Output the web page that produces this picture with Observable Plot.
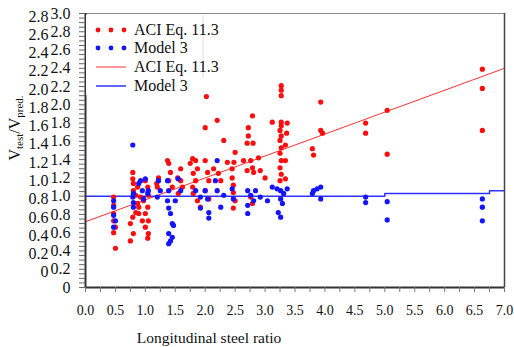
<!DOCTYPE html>
<html><head><meta charset="utf-8">
<script src="https://cdn.jsdelivr.net/npm/d3@7"></script>
<script src="https://cdn.jsdelivr.net/npm/@observablehq/plot@0.6"></script>
<style>
body{margin:0;background:#fff;}
#chart{position:relative;width:514px;height:347px;}
</style></head><body><div id="chart"></div>
<script>
// ACI Eq. 11.3 points (longitudinal steel ratio, Vtest/Vpred)
const aciX = [2.02,2.0,2.2,2.31,2.79,2.72,2.72,2.7,2.8,
  3.27,3.27,3.27,3.27,3.27,3.25,3.27,3.25,3.27,3.25,3.27,3.25,3.27,3.25,
  3.12,3.37,3.36,3.34,3.34,3.34,
  2.5,2.48,2.37,2.45,2.64,2.76,2.89,2.79,2.92,3.0,2.81,2.7,
  1.79,1.84,1.75,1.87,1.8,1.84,1.79,1.8,1.87,1.92,2.0,2.04,2.06,2.0,2.06,2.14,2.22,2.26,2.47,2.47,2.5,2.47,2.76,2.79,2.45,
  1.37,1.39,1.42,1.39,1.59,1.59,1.62,1.55,1.45,1.54,1.22,1.19,1.2,
  0.79,0.79,0.8,0.8,0.84,0.87,0.89,0.84,0.79,0.75,0.8,0.75,1.0,1.04,1.05,0.97,1.04,1.0,1.05,1.0,1.05,1.04,0.95,0.89,0.92,0.87,
  0.47,0.47,0.47,0.47,0.5,0.47,0.5,
  3.93,3.93,3.96,3.79,3.81,4.68,4.68,5.04,5.04,6.63,6.63,6.63];
const aciY = [2.09,1.75,1.83,1.61,1.88,1.75,1.66,1.58,1.58,
  2.21,2.16,2.10,1.81,1.77,1.72,1.66,1.61,1.53,1.47,1.39,1.31,1.24,1.17,
  1.81,1.8,1.69,1.56,1.39,1.19,
  1.48,1.37,1.37,1.30,1.39,1.39,1.42,1.31,1.28,1.2,1.26,1.28,
  1.41,1.39,1.36,1.30,1.25,1.17,1.10,1.03,0.95,0.88,1.39,1.26,1.17,1.06,0.97,1.30,1.25,1.17,1.12,1.04,0.95,0.87,0.99,0.92,1.2,
  1.39,1.36,1.26,1.17,1.30,1.17,1.10,1.03,1.10,1.2,1.2,1.14,1.1,
  1.26,1.19,1.14,1.06,1.01,0.92,0.88,0.82,0.77,0.70,0.59,0.51,1.17,1.10,1.01,0.95,0.88,0.81,0.73,0.66,0.59,0.54,0.73,0.81,0.99,1.10,
  0.99,0.90,0.81,0.73,0.66,0.60,0.43,
  2.03,1.72,1.69,1.52,1.45,1.80,1.69,1.94,1.46,2.39,2.18,1.72];
// Model 3 points
const m3X = [0.79,
  0.8,0.79,0.8,0.8,0.89,0.95,1.0,1.04,0.97,1.05,0.92,
  0.47,0.47,0.47,0.5,0.47,
  1.22,1.25,1.2,1.37,1.39,1.37,1.39,1.42,1.45,1.39,1.42,1.39,1.45,1.47,1.55,1.59,1.5,
  1.84,1.92,2.0,2.04,2.06,2.06,1.92,2.2,2.17,2.2,2.26,2.31,
  2.45,2.47,2.71,2.76,2.81,2.71,2.71,2.84,2.92,3.04,
  3.12,3.2,3.26,3.31,3.26,3.29,3.22,3.26,3.37,
  3.81,3.87,3.93,3.79,3.93,4.68,4.68,5.04,5.04,6.63,6.63,6.63];
const m3Y = [1.56,
  1.03,0.99,0.93,0.88,1.14,1.06,1.19,1.03,0.97,1.06,1.17,
  0.95,0.88,0.79,0.73,0.66,
  1.17,1.06,0.99,1.17,1.06,0.95,0.87,0.81,0.70,0.59,0.51,0.48,0.55,0.68,1.19,1.06,0.95,
  1.06,0.99,1.06,0.97,0.82,0.76,0.87,1.39,1.17,1.06,0.88,1.01,
  1.08,0.97,1.06,1.01,0.95,0.90,0.81,1.06,0.99,0.95,
  1.10,1.08,1.06,1.03,0.97,0.92,0.82,0.77,1.08,
  1.06,1.08,1.10,1.03,0.97,0.99,0.93,0.94,0.74,0.97,0.88,0.73];
// fitted lines
const aciLineX = [0, 7];
const aciLineY = [0.72, 2.40];
const m3LineX = [0, 5.0, 5.0, 6.75, 6.75, 7.0];
const m3LineY = [1.00, 1.00, 1.03, 1.03, 1.06, 1.06];
// tick labels
const xTicks = [0,0.5,1,1.5,2,2.5,3,3.5,4,4.5,5,5.5,6,6.5,7];
const yTicks = [0,0.2,0.4,0.6,0.8,1.0,1.2,1.4,1.6,1.8,2.0,2.2,2.4,2.6,2.8,3.0];
const yTicks2 = [0.2,0.4,0.6,0.8,1.0,1.2,1.4,1.6,1.8,2.0,2.2,2.4,2.6,2.8,3.0];
const yTicks2Labels = ["0","0.2","0.4","0.6","0.8","1.0","1.2","1.4","1.6","1.8","2.0","2.2","2.4","2.6","2.8"];
const legendLabels = ["ACI Eq. 11.3","Model 3","ACI Eq. 11.3","Model 3"];

const FONT = "Liberation Serif";
const RED = "#ff0d0d", BLUE = "#1414ff";
const aci = aciX.map((x,i)=>({x, y: aciY[i]}));
const m3 = m3X.map((x,i)=>({x, y: m3Y[i]}));
const aciLine = aciLineX.map((x,i)=>({x, y: aciLineY[i]}));
const m3Line = m3LineX.map((x,i)=>({x, y: m3LineY[i]}));
const minorX = d3.range(0, 7.001, 0.25);
const minorY = d3.range(0, 3.001, 0.05);

const plot = Plot.plot({
  width: 514, height: 347,
  marginLeft: 85, marginRight: 10, marginTop: 13, marginBottom: 60,
  style: {fontFamily: FONT, fontSize: "14px", color: "#111", background: "#fff"},
  x: {domain: [0, 7], axis: null},
  y: {domain: [0, 3], axis: null},
  marks: [
    Plot.frame({stroke: "#888"}),
    Plot.line(aciLine, {x: "x", y: "y", stroke: "#ff3030", strokeWidth: 1}),
    Plot.line(m3Line, {x: "x", y: "y", stroke: "#3030ff", strokeWidth: 1.5}),
    Plot.dot(aci, {x: "x", y: "y", fill: RED, r: 2.6}),
    Plot.dot(m3, {x: "x", y: "y", fill: BLUE, r: 2.6}),
    Plot.ruleX([0], {stroke: "#333", strokeWidth: 2}),
    Plot.ruleX([7], {stroke: "#444", strokeWidth: 1.5}),
    Plot.ruleY([0], {stroke: "#333", strokeWidth: 2}),
    Plot.axisX({ticks: minorX, tickSize: 5, stroke: "#777", tickFormat: () => "", label: null}),
    Plot.axisY({ticks: minorY, tickSize: 6, stroke: "#666", tickFormat: () => "", label: null}),
    Plot.text(xTicks, {x: d => d, frameAnchor: "bottom", dy: 27, text: d => d.toFixed(1),
      fontFamily: FONT, fontSize: 14, fill: "#111"}),
    Plot.text(yTicks, {y: d => d, frameAnchor: "left", dx: -15, textAnchor: "end", text: d => d === 0 ? "0" : d.toFixed(1),
      fontFamily: FONT, fontSize: 16, fill: "#111"}),
    Plot.text(yTicks2, {y: d => d, frameAnchor: "left", dx: -37, dy: 3, textAnchor: "end", text: (d, i) => yTicks2Labels[i],
      fontFamily: FONT, fontSize: 16, fill: "#111"})
  ]
});
document.getElementById("chart").appendChild(plot);

const svg = d3.select(plot);
// legend
const lg = svg.append("g").attr("font-family", FONT).attr("font-size", 16).attr("text-anchor", "start");
lg.append("rect").attr("x", 86).attr("y", 15).attr("width", 117).attr("height", 80).attr("fill", "#fff");
lg.append("line").attr("x1", 203).attr("x2", 203).attr("y1", 15).attr("y2", 78).attr("stroke", "#ddd");
const rows = [30, 48, 67, 86];
[RED, BLUE].forEach((c, k) => {
  [98, 111, 124].forEach(cx => lg.append("circle").attr("cx", cx).attr("cy", rows[k]).attr("r", 2.4).attr("fill", c));
});
[["#ff3030", 1], ["#3030ff", 1.5]].forEach(([c, w], k) => {
  lg.append("line").attr("x1", 96).attr("x2", 126).attr("y1", rows[k + 2]).attr("y2", rows[k + 2]).attr("stroke", c).attr("stroke-width", w);
});
legendLabels.forEach((t, k) => {
  lg.append("text").attr("x", 134).attr("y", rows[k] + 5).attr("fill", "#111").text(t);
});
// axis titles
svg.append("text").attr("x", 209).attr("y", 343).attr("text-anchor", "middle")
  .attr("font-family", FONT).attr("font-size", 15.5).attr("fill", "#111").text("Longitudinal steel ratio");
const yt = svg.append("text").attr("transform", "translate(20,128) rotate(-90)").attr("text-anchor", "middle")
  .attr("font-family", FONT).attr("font-size", 16).attr("fill", "#111");
yt.append("tspan").text("V");
yt.append("tspan").attr("dy", 3).attr("font-size", 11).text("test");
yt.append("tspan").attr("dy", -3).text("/V");
yt.append("tspan").attr("dy", 3).attr("font-size", 11).text("pred.");
</script>
</body></html>
